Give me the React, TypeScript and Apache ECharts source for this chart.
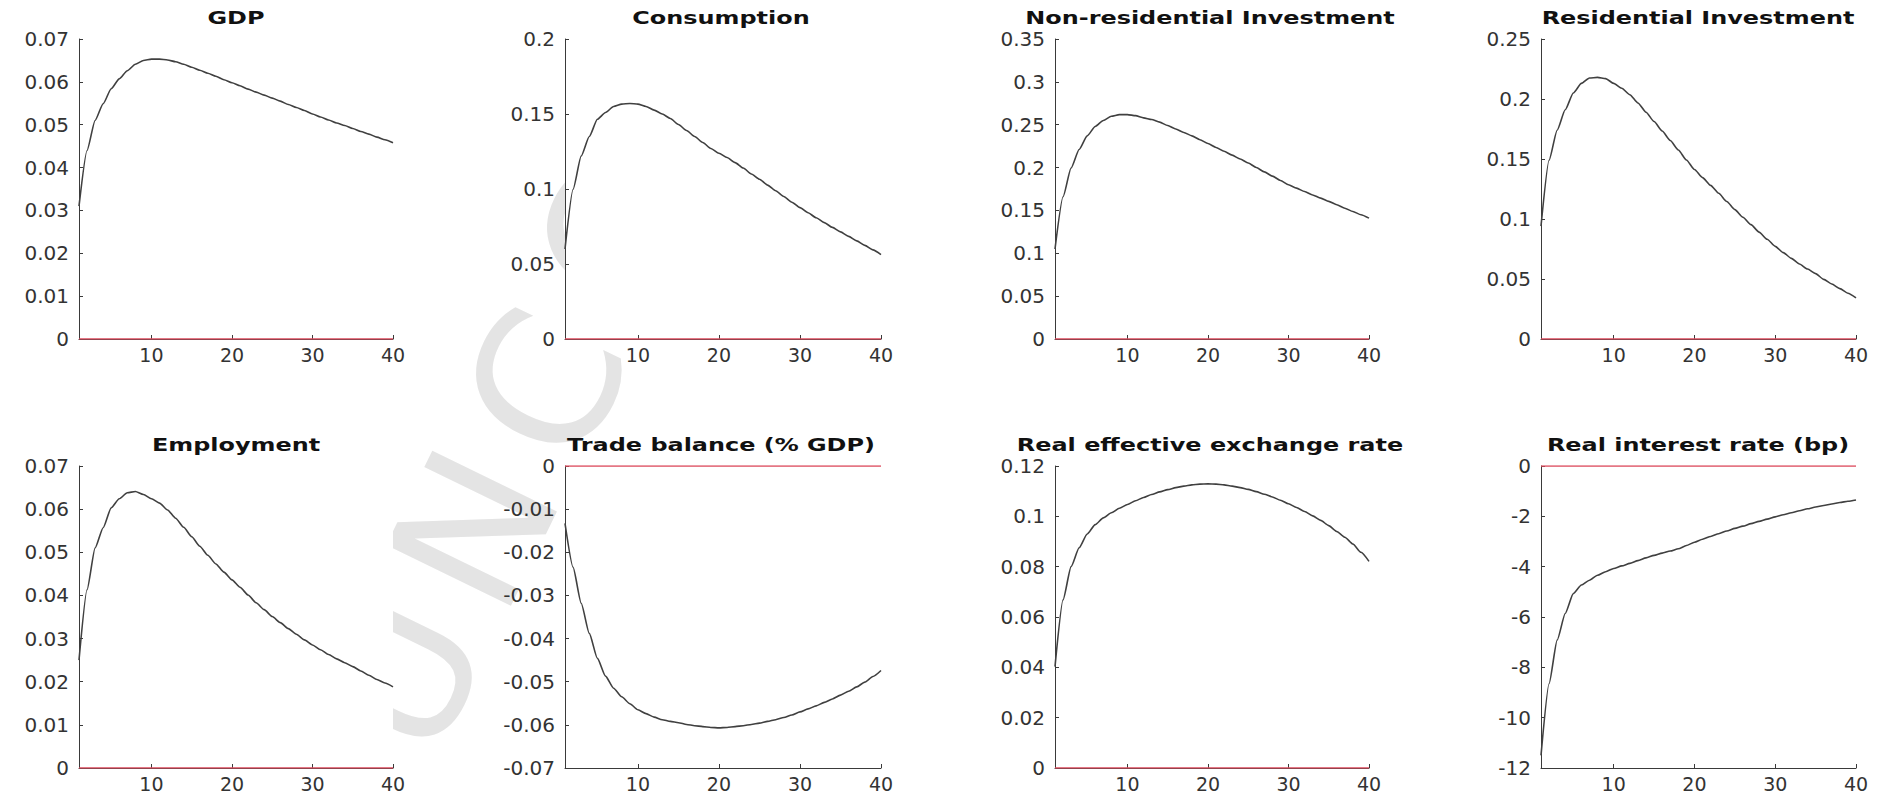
import React, { useEffect, useRef } from 'react';
import * as echarts from 'echarts';

// ---- data ----
const periods = [1, 2, 3, 4, 5, 6, 7, 8, 9, 10, 11, 12, 13, 14, 15, 16, 17, 18, 19, 20,
  21, 22, 23, 24, 25, 26, 27, 28, 29, 30, 31, 32, 33, 34, 35, 36, 37, 38, 39, 40];
const xTicks = [10, 20, 30, 40];

const titles = [
  'GDP', 'Consumption', 'Non-residential Investment', 'Residential Investment',
  'Employment', 'Trade balance (% GDP)', 'Real effective exchange rate', 'Real interest rate (bp)',
];

const gdp = [0.0310, 0.0440, 0.0510, 0.0549, 0.0584, 0.0607, 0.0626, 0.0641, 0.0650, 0.0653,
  0.0653, 0.0651, 0.0647, 0.0641, 0.0634, 0.0627, 0.0620, 0.0613, 0.0605, 0.0598,
  0.0591, 0.0583, 0.0576, 0.0569, 0.0562, 0.0555, 0.0547, 0.0540, 0.0533, 0.0525,
  0.0518, 0.0511, 0.0504, 0.0498, 0.0491, 0.0484, 0.0478, 0.0471, 0.0465, 0.0458];
const consumption = [0.060, 0.0998, 0.122, 0.135, 0.1465, 0.151, 0.155, 0.1566, 0.157, 0.1566,
  0.155, 0.1526, 0.150, 0.147, 0.143, 0.139, 0.135, 0.131, 0.127, 0.1238,
  0.121, 0.1176, 0.114, 0.110, 0.1065, 0.1026, 0.0988, 0.0950, 0.0912, 0.0876,
  0.0842, 0.0808, 0.0776, 0.0744, 0.0714, 0.0684, 0.0654, 0.0624, 0.0594, 0.0563];
const nonResInvestment = [0.105, 0.166, 0.1995, 0.221, 0.237, 0.248, 0.255, 0.2598, 0.2618, 0.2618,
  0.2606, 0.258, 0.256, 0.253, 0.249, 0.245, 0.241, 0.237, 0.2325, 0.228,
  0.2235, 0.219, 0.2145, 0.210, 0.2054, 0.200, 0.195, 0.190, 0.185, 0.180,
  0.176, 0.172, 0.168, 0.1643, 0.1606, 0.1566, 0.1526, 0.1487, 0.145, 0.141];
const resInvestment = [0.094, 0.149, 0.174, 0.191, 0.205, 0.213, 0.2175, 0.218, 0.217, 0.213,
  0.209, 0.2036, 0.1967, 0.1890, 0.1812, 0.1733, 0.1654, 0.1575, 0.1492, 0.1412,
  0.1345, 0.1280, 0.1214, 0.1146, 0.1078, 0.1015, 0.0953, 0.0891, 0.0831, 0.0772,
  0.0720, 0.0672, 0.0625, 0.0583, 0.0545, 0.0497, 0.0458, 0.0420, 0.0381, 0.0342];
const employment = [0.025, 0.0413, 0.051, 0.0557, 0.0603, 0.0624, 0.0638, 0.0641, 0.0634, 0.0624,
  0.0614, 0.0598, 0.0579, 0.0558, 0.0536, 0.0514, 0.0493, 0.0473, 0.0454, 0.0436,
  0.0419, 0.0401, 0.0383, 0.0367, 0.0351, 0.0337, 0.0323, 0.031, 0.0297, 0.0285,
  0.0274, 0.0263, 0.0253, 0.0244, 0.0235, 0.0225, 0.0215, 0.0205, 0.0197, 0.0188];
const tradeBalance = [-0.0133, -0.0235, -0.0318, -0.0388, -0.0446, -0.0487, -0.0515, -0.0535, -0.0551, -0.0565,
  -0.0574, -0.0582, -0.0588, -0.0592, -0.0595, -0.0599, -0.0602, -0.0604, -0.0606, -0.0607,
  -0.0606, -0.0604, -0.0602, -0.0599, -0.0596, -0.0592, -0.0588, -0.0583, -0.0577, -0.0570,
  -0.0563, -0.0556, -0.0548, -0.0540, -0.0531, -0.0522, -0.0512, -0.0501, -0.0488, -0.0474];
const reer = [0.0403, 0.0668, 0.0800, 0.0875, 0.0930, 0.0967, 0.0994, 0.1014, 0.1032, 0.1047,
  0.1062, 0.1075, 0.1087, 0.1097, 0.1106, 0.1114, 0.1120, 0.1125, 0.1128, 0.1129,
  0.1128, 0.1125, 0.1120, 0.1114, 0.1107, 0.1098, 0.1088, 0.1077, 0.1064, 0.1050,
  0.1035, 0.1019, 0.1002, 0.0984, 0.0963, 0.0940, 0.0917, 0.0890, 0.0857, 0.0821];
const realRate = [-11.5, -8.65, -6.92, -5.86, -5.07, -4.73, -4.54, -4.34, -4.2, -4.07,
  -3.97, -3.87, -3.76, -3.65, -3.55, -3.46, -3.38, -3.29, -3.16, -3.03,
  -2.91, -2.8, -2.69, -2.58, -2.48, -2.39, -2.29, -2.2, -2.11, -2.02,
  -1.94, -1.86, -1.78, -1.7, -1.63, -1.57, -1.51, -1.45, -1.4, -1.35];

const seriesValues = [gdp, consumption, nonResInvestment, resInvestment, employment, tradeBalance, reer, realRate];
const yMins = [0, 0, 0, 0, 0, -0.07, 0, -12];
const yMaxs = [0.07, 0.2, 0.35, 0.25, 0.07, 0, 0.12, 0];
const ySteps = [0.01, 0.05, 0.05, 0.05, 0.01, 0.01, 0.02, 2];
const zeroLine = [0, 0];
const watermarkLetters = ['U', 'N', 'C', 'O'];

// ---- layout ----
const colLefts = [79, 565, 1055, 1541];
const colWidths = [314, 316, 314, 315];
const rowTops = [39, 466];
const rowHeights = [300, 302];
const titleCx = [236, 721, 1210, 1698];
const titleCy = [18, 445];
const wmX = [403, 475, 547, 622];
const wmY = [675, 530, 385, 232];

const CURVE = '#404040';
const AXIS = '#3a3a3a';
const RED = '#dc4a5c';

export default function App() {
  const ref = useRef<HTMLDivElement>(null);

  useEffect(() => {
    if (!ref.current) return;
    const chart = echarts.init(ref.current, undefined, { renderer: 'svg' });

    const grids: any[] = [];
    const xAxes: any[] = [];
    const yAxes: any[] = [];
    const series: any[] = [];
    const graphics: any[] = [];

    watermarkLetters.forEach((ch, j) => {
      graphics.push({
        type: 'text', x: wmX[j], y: wmY[j], rotation: (64 * Math.PI) / 180, z: -1,
        silent: true,
        style: {
          text: ch, fill: '#e4e4e4',
          font: 'normal 190px "DejaVu Sans"',
          textAlign: 'center', textVerticalAlign: 'middle',
        },
      });
    });

    for (let i = 0; i < 8; i++) {
      const col = i % 4;
      const row = Math.floor(i / 4);
      grids.push({
        left: colLefts[col], top: rowTops[row], width: colWidths[col], height: rowHeights[row],
        show: true, backgroundColor: '#ffffff', borderWidth: 0, containLabel: false,
      });
      xAxes.push({
        type: 'value', gridIndex: i, min: 1, max: 40,
        axisLine: { show: true, onZero: false, lineStyle: { color: AXIS, width: 1 } },
        axisTick: { show: true, inside: true, length: 4, customValues: xTicks, lineStyle: { color: AXIS } },
        axisLabel: {
          show: true, customValues: xTicks, margin: 6, color: '#333333',
          fontFamily: 'DejaVu Sans', fontSize: 19,
        },
        splitLine: { show: false },
      });
      yAxes.push({
        type: 'value', gridIndex: i, min: yMins[i], max: yMaxs[i], interval: ySteps[i],
        axisLine: { show: true, onZero: false, lineStyle: { color: AXIS, width: 1 } },
        axisTick: { show: true, inside: true, length: 4, lineStyle: { color: AXIS } },
        axisLabel: {
          show: true, margin: 10, color: '#333333', fontFamily: 'DejaVu Sans', fontSize: 20,
          formatter: (v: number) => String(parseFloat(v.toFixed(6))),
        },
        splitLine: { show: false },
      });
      series.push({
        type: 'line', xAxisIndex: i, yAxisIndex: i, showSymbol: false, silent: true, z: 3,
        data: [[periods[0], zeroLine[0]], [periods[periods.length - 1], zeroLine[1]]],
        lineStyle: { color: RED, width: 1.6 },
      });
      series.push({
        type: 'line', xAxisIndex: i, yAxisIndex: i, showSymbol: false, silent: true, z: 4,
        smooth: 0.2, smoothMonotone: 'x',
        data: periods.map((p, k) => [p, seriesValues[i][k]]),
        lineStyle: { color: CURVE, width: 1.6 },
      });
      graphics.push({
        type: 'text', x: titleCx[col], y: titleCy[row], scaleX: 1.33, z: 10,
        style: {
          text: titles[i], fill: '#111111',
          font: 'bold 18px "DejaVu Sans"',
          textAlign: 'center', textVerticalAlign: 'middle',
        },
      });
    }

    chart.setOption({
      animation: false,
      backgroundColor: '#ffffff',
      grid: grids,
      xAxis: xAxes,
      yAxis: yAxes,
      series,
      graphic: graphics,
    });

    return () => chart.dispose();
  }, []);

  return (
    <div
      ref={ref}
      style={{ position: 'absolute', left: 0, top: 0, width: 1882, height: 796 }}
    />
  );
}
